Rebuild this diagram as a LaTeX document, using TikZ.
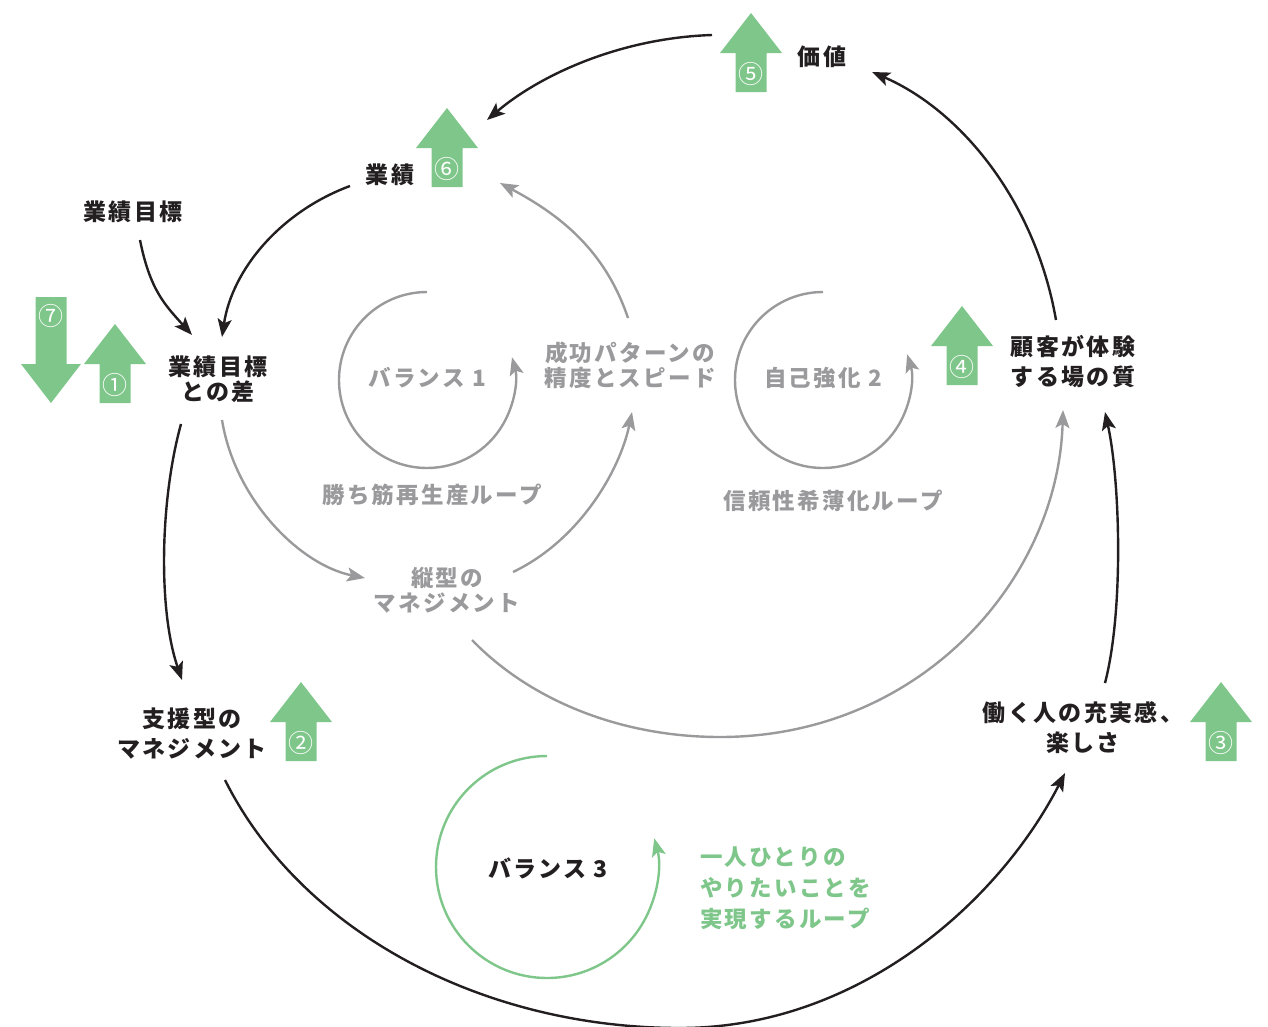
\documentclass[tikz,border=0pt]{standalone}
\usepackage{fontspec}
\setmainfont{Noto Sans CJK JP}
\newfontfamily\jp{Noto Sans CJK JP}[LetterSpace=10]
\newfontfamily\jpn{Noto Sans CJK JP}
\usetikzlibrary{arrows.meta}
\definecolor{ink}{RGB}{35,31,32}
\definecolor{gry}{RGB}{154,154,156}
\definecolor{grn}{RGB}{126,198,138}
\tikzset{
  blk/.style={text=ink, font=\jp\bfseries\fontsize{23}{30}\selectfont, align=center, inner sep=0pt},
  blktight/.style={text=ink, font=\jp\bfseries\fontsize{23}{25}\selectfont, align=center, inner sep=0pt},
  gtx/.style={text=gry, font=\jp\bfseries\fontsize{22.5}{25}\selectfont, align=center, inner sep=0pt},
  grtx/.style={text=grn, font=\jp\bfseries\fontsize{22.5}{31}\selectfont, align=left, inner sep=0pt},
  num/.style={text=white, font=\jpn\fontsize{25}{25}\selectfont, inner sep=0pt},
  tip/.style={-{Stealth[length=18pt,width=14pt,inset=4pt]}},
  blkline/.style={draw=ink, line width=2.4pt, tip},
  gryline/.style={draw=gry, line width=2.4pt, tip},
  grnline/.style={draw=grn, line width=2.4pt, tip},
  upbig/.pic={
    \fill[grn] (0,0) -- (31,40) -- (15.5,40) -- (15.5,79) -- (-15.5,79) -- (-15.5,40) -- (-31,40) -- cycle;
    \node[num] (-n) at (0,61) {#1};
  }
}
\begin{document}
\begin{tikzpicture}[x=1pt,y=-1pt]
\useasboundingbox (0,0) rectangle (1268,1026);

% ---- green level arrows
\pic (a5) at (751,13) {upbig=⑤};
\pic (a6) at (447,108) {upbig=⑥};
\pic (a1) at (115,324) {upbig=①};
\pic (a4) at (962,306) {upbig=④};
\pic (a2) at (301,682) {upbig=②};
\pic (a3) at (1221,682) {upbig=③};
\fill[grn] (35.5,297) -- (66.5,297) -- (66.5,364) -- (81,364) -- (51,403) -- (21,364) -- (35.5,364) -- cycle;
\node[num] (a7) at (51,316) {⑦};

% ---- labels
\node[blk] (kachi) at (822,57) {価値};
\node[blk] (gyoseki) at (390,175) {業績};
\node[blk] (mokuhyo) at (133,212) {業績目標};
\node[blktight] (sa) at (218,379) {業績目標\\との差};
\node[blk] (shien) at (192,734) {支援型の\\マネジメント};
\node[blk] (hataraku) at (1083,728) {働く人の充実感、\\楽しさ};
\node[blk] (kokyaku) at (1073,362) {顧客が体験\\する場の質};
\node[gtx] (seiko) at (630,365) {成功パターンの\\精度とスピード};
\node[gtx] (tategata) at (447,590) {縦型の\\マネジメント};
\node[gtx] (bal1) at (427,378) {バランス 1};
\node[gtx] (loop1) at (432,495) {勝ち筋再生産ループ};
\node[gtx] (bal2) at (823,378) {自己強化 2};
\node[gtx] (loop2) at (833,501) {信頼性希薄化ループ};
\node[blk] (bal3) at (548,868) {バランス 3};
\node[grtx, anchor=west] (loop3) at (700,888) {一人ひとりの\\やりたいことを\\実現するループ};

% ---- connector end points
\coordinate (kachiL) at (712,35);
\coordinate (gyosekiR) at (487,120);
\coordinate (gyosekiL) at (350,186);
\coordinate (saT) at (222,337);
\coordinate (mokuhyoB) at (140,240);
\coordinate (saTL) at (192,335);
\coordinate (saB) at (181,424);
\coordinate (shienT) at (182,680);
\coordinate (shienB) at (225,780);
\coordinate (hatarakuB) at (1065,773);
\coordinate (hatarakuT) at (1105,683);
\coordinate (kokyakuB) at (1105,412);
\coordinate (kokyakuT) at (1056,320);
\coordinate (kachiR) at (872,72);
\coordinate (seikoT) at (628,318);
\coordinate (gyosekiB) at (500,183);
\coordinate (saBR) at (222,420);
\coordinate (tategataL) at (365,578);
\coordinate (tategataR) at (513,572);
\coordinate (seikoB) at (632,412);
\coordinate (tategataB) at (472,640);
\coordinate (kokyakuBL) at (1063,410);

% ---- black causal links
\draw[blkline] (kachiL) .. controls (620,38) and (540,75) .. (gyosekiR);
\draw[blkline] (gyosekiL) .. controls (280,212) and (232,270) .. (saT);
\draw[blkline] (mokuhyoB) .. controls (150,290) and (165,305) .. (saTL);
\draw[blkline] (saB) .. controls (160,500) and (158,610) .. (shienT);
\draw[blkline] (shienB) .. controls (300,930) and (480,1028) .. (680,1028)
                      .. controls (860,1028) and (1000,900) .. (hatarakuB);
\draw[blkline] (hatarakuT) .. controls (1124,610) and (1120,480) .. (kokyakuB);
\draw[blkline] (kokyakuT) .. controls (1035,200) and (960,110) .. (kachiR);

% ---- grey links
\draw[gryline] (seikoT) .. controls (605,250) and (560,215) .. (gyosekiB);
\draw[gryline] (saBR) .. controls (235,500) and (300,565) .. (tategataL);
\draw[gryline] (tategataR) .. controls (580,540) and (620,470) .. (seikoB);
\draw[gryline] (tategataB) .. controls (530,700) and (620,737) .. (720,737)
                          .. controls (920,737) and (1058,580) .. (kokyakuBL);

% ---- loop symbols
\draw[gryline] (427,292) arc[start angle=270, end angle=-15, radius=88];
\draw[gryline] (823,292) arc[start angle=270, end angle=-17, radius=88];
\draw[grnline] (547,756) arc[start angle=270, end angle=-15, radius=111];
\end{tikzpicture}
\end{document}
